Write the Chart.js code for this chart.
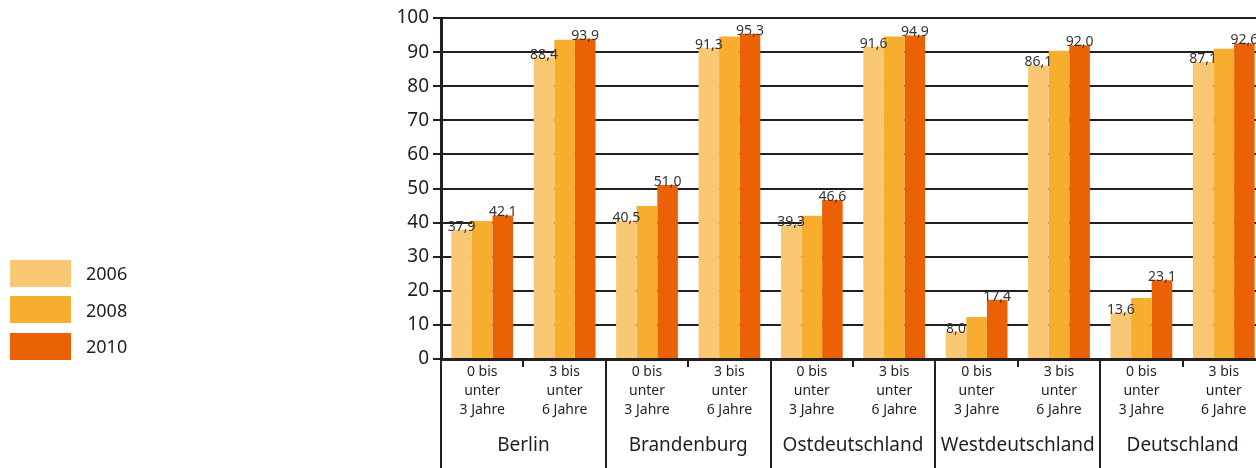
<!DOCTYPE html>
<html>
<head>
<meta charset="utf-8">
<script src="https://cdn.jsdelivr.net/npm/chart.js@4"></script>
<style>
  html, body { margin: 0; padding: 0; background: #fff; overflow: hidden; }
  body { width: 1256px; height: 468px; position: relative; font-family: "Noto Sans", sans-serif; color: #231f20; }
  #wrap { position: absolute; left: 0; top: 0; width: 1270px; height: 468px; }
  #legend { position: absolute; left: 10px; top: 255px; }
  .item { display: flex; align-items: center; height: 36.5px; }
  .box { width: 61px; height: 27px; margin-right: 15px; }
  .item span { font-size: 18px; }
</style>
</head>
<body>
<div id="wrap"><canvas id="kita" width="1270" height="468"></canvas></div>
<div id="legend"></div>
<script>
// Betreuungsquoten in %, je Region und Altersgruppe
const regions = ["Berlin", "Brandenburg", "Ostdeutschland", "Westdeutschland", "Deutschland"];
const ageGroups = [["0 bis", "unter", "3 Jahre"], ["3 bis", "unter", "6 Jahre"]];
const years = ["2006", "2008", "2010"];
const colors = ["#fac874", "#f7ad2e", "#eb6105"];

const values2006 = [37.9, 88.4, 40.5, 91.3, 39.3, 91.6, 8.0, 86.1, 13.6, 87.1];
const values2008 = [40.5, 93.6, 44.9, 94.6, 42.0, 94.6, 12.3, 90.4, 17.9, 91.0];
const values2010 = [42.1, 93.9, 51.0, 95.3, 46.6, 94.9, 17.4, 92.0, 23.1, 92.6];

const yTicks = [0, 10, 20, 30, 40, 50, 60, 70, 80, 90, 100];

let labels = [];
regions.forEach(function () {
  ageGroups.forEach(function (a) { labels.push(a); });
});

const series = [values2006, values2008, values2010];

// legend
let legendHtml = "";
for (let i = 0; i < years.length; i++) {
  legendHtml += `<div class="item"><div class="box" style="background:${colors[i]}"></div><span>${years[i]}</span></div>`;
}
document.getElementById("legend").innerHTML = legendHtml;

const fontFam = '"Noto Sans", sans-serif';
const ink = "#231f20";

const valueLabels = {
  id: "valueLabels",
  afterDatasetsDraw(chart) {
    const ctx = chart.ctx;
    ctx.save();
    ctx.font = "14px " + fontFam;
    ctx.fillStyle = "#333";
    ctx.textAlign = "center";
    ctx.textBaseline = "alphabetic";
    [0, 2].forEach(function (d) {
      chart.getDatasetMeta(d).data.forEach(function (bar, i) {
        let v = series[d][i].toFixed(1).replace(".", ",");
        ctx.fillText(v, bar.x, bar.y + 1);
      });
    });
    ctx.restore();
  }
};

const groupAxis = {
  id: "groupAxis",
  afterDraw(chart) {
    const ctx = chart.ctx;
    const x = chart.scales.x;
    const bottom = chart.chartArea.bottom;
    const step = x.getPixelForValue(1) - x.getPixelForValue(0);
    ctx.save();
    ctx.strokeStyle = ink;
    ctx.lineWidth = 2;
    for (let g = 0; g <= regions.length; g++) {
      let px = Math.round(x.getPixelForValue(g * 2) - step / 2);
      ctx.beginPath();
      ctx.moveTo(px, bottom);
      ctx.lineTo(px, chart.height);
      ctx.stroke();
    }
    ctx.font = "19px " + fontFam;
    ctx.fillStyle = ink;
    ctx.textAlign = "center";
    ctx.textBaseline = "middle";
    regions.forEach(function (r, g) {
      let cx = (x.getPixelForValue(g * 2) + x.getPixelForValue(g * 2 + 1)) / 2;
      ctx.fillText(r, cx, 446);
    });
    ctx.restore();
  }
};

new Chart(document.getElementById("kita").getContext("2d"), {
  type: "bar",
  data: {
    labels: labels,
    datasets: years.map(function (y, i) {
      return {
        label: y,
        data: series[i],
        backgroundColor: colors[i],
        borderWidth: 0,
        categoryPercentage: 0.75,
        barPercentage: 1.0,
      };
    }),
  },
  options: {
    responsive: false,
    animation: false,
    layout: { padding: { top: 18, right: 5, left: 0, bottom: 0 } },
    plugins: { legend: { display: false }, tooltip: { enabled: false } },
    scales: {
      x: {
        afterFit: function (s) { s.height = 109; },
        grid: { drawOnChartArea: false, drawTicks: true, tickLength: 8, color: ink, lineWidth: 2 },
        border: { display: true, color: ink, width: 3 },
        ticks: {
          color: ink,
          font: { family: fontFam, size: 14, lineHeight: 1.36 },
          padding: -5,
          maxRotation: 0,
          autoSkip: false,
        },
      },
      y: {
        min: 0,
        max: 100,
        afterFit: function (s) { s.width = 441; },
        afterBuildTicks: function (s) { s.ticks = yTicks.map(function (v) { return { value: v }; }); },
        grid: { color: ink, lineWidth: 2, tickLength: 8 },
        border: { display: true, color: ink, width: 3 },
        ticks: {
          color: ink,
          font: { family: fontFam, size: 19 },
          padding: 4,
        },
      },
    },
  },
  plugins: [valueLabels, groupAxis],
});
</script>
</body>
</html>
